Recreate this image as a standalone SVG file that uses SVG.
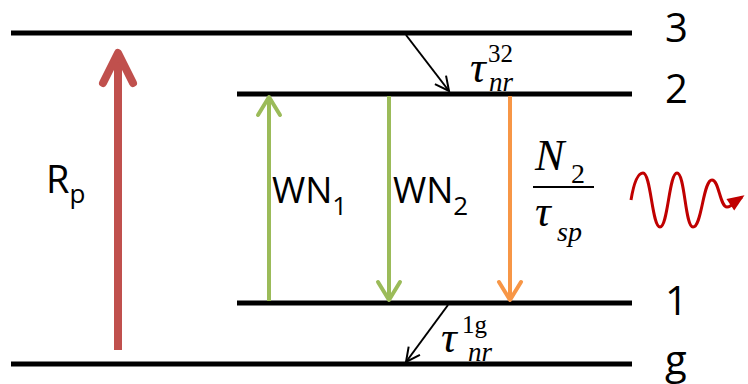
<svg xmlns="http://www.w3.org/2000/svg" width="748" height="384" viewBox="0 0 748 384">
  <style>
    .level { stroke: #000; stroke-width: 5; }
    .sans { font-family: "Open Sans", "Liberation Sans", sans-serif; fill: #000; }
    .serif { font-family: "Liberation Serif", "Times New Roman", serif; font-style: italic; fill: #000; }
    .roman { font-family: "Liberation Serif", "Times New Roman", serif; fill: #000; }
  </style>
  <defs>
    <marker id="headRed" markerUnits="userSpaceOnUse" orient="auto" overflow="visible" markerWidth="1" markerHeight="1">
      <path d="M-30,-15 L0,0 L-30,15" fill="none" stroke="#C0504D" stroke-width="8" stroke-linecap="round" stroke-linejoin="round"/>
    </marker>
    <marker id="headGreen" markerUnits="userSpaceOnUse" orient="auto" overflow="visible" markerWidth="1" markerHeight="1">
      <path d="M-18,-11 L0,0 L-18,11" fill="none" stroke="#9BBB59" stroke-width="4" stroke-linecap="round" stroke-linejoin="round"/>
    </marker>
    <marker id="headOrange" markerUnits="userSpaceOnUse" orient="auto" overflow="visible" markerWidth="1" markerHeight="1">
      <path d="M-18,-11 L0,0 L-18,11" fill="none" stroke="#F79646" stroke-width="4" stroke-linecap="round" stroke-linejoin="round"/>
    </marker>
    <marker id="headBlack" markerUnits="userSpaceOnUse" orient="auto" overflow="visible" markerWidth="1" markerHeight="1">
      <path d="M-14,-7 L0,0 L-14,7" fill="none" stroke="#000" stroke-width="2"/>
    </marker>
    <marker id="headWave" markerUnits="userSpaceOnUse" orient="auto" overflow="visible" markerWidth="1" markerHeight="1">
      <path d="M-14,-7 L3,0 L-14,7 Z" fill="#C00000"/>
    </marker>
  </defs>

  <!-- energy levels -->
  <g id="level-3">
    <line class="level" x1="11" y1="33" x2="632" y2="33"/>
    <text class="sans" x="665" y="42" font-size="40">3</text>
  </g>
  <g id="level-2">
    <line class="level" x1="237" y1="94" x2="632" y2="94"/>
    <text class="sans" x="665" y="103" font-size="40">2</text>
  </g>
  <g id="level-1">
    <line class="level" x1="237" y1="303" x2="632" y2="303"/>
    <text class="sans" x="665" y="315" font-size="40">1</text>
  </g>
  <g id="level-g">
    <line class="level" x1="11" y1="364" x2="632" y2="364"/>
    <text class="sans" x="665" y="374" font-size="40">g</text>
  </g>

  <!-- transitions -->
  <g id="connectors" fill="none">
    <line x1="118" y1="350" x2="118" y2="53" stroke="#C0504D" stroke-width="8" marker-end="url(#headRed)"/>
    <line x1="269" y1="301" x2="269" y2="97" stroke="#9BBB59" stroke-width="4" marker-end="url(#headGreen)"/>
    <line x1="389" y1="96" x2="389" y2="300" stroke="#9BBB59" stroke-width="4" marker-end="url(#headGreen)"/>
    <line x1="510" y1="96" x2="510" y2="300" stroke="#F79646" stroke-width="4" marker-end="url(#headOrange)"/>
    <line x1="406" y1="35" x2="449" y2="91" stroke="#000" stroke-width="2" marker-end="url(#headBlack)"/>
    <line x1="448" y1="305" x2="406" y2="362" stroke="#000" stroke-width="2" marker-end="url(#headBlack)"/>
    <path d="M631,200 C634,182 638,173 643,173 C651,173 652,227 660,227 C668,227 669,173 677,173 C685,173 685,227 693,227 C702,227 703,180 712,180 C719,180 720,207 727,207 C732,207 736,201 742,197" stroke="#C00000" stroke-width="3" marker-end="url(#headWave)"/>
  </g>

  <!-- labels -->
  <g id="label-Rp">
    <text class="sans" x="46" y="193" font-size="38">R<tspan font-size="26" dy="10">p</tspan></text>
  </g>
  <g id="label-WN1">
    <text class="sans" x="272" y="203" font-size="36">WN<tspan font-size="26" dy="12">1</tspan></text>
  </g>
  <g id="label-WN2">
    <text class="sans" x="393" y="203" font-size="36">WN<tspan font-size="26" dy="12">2</tspan></text>
  </g>
  <g id="label-tau32">
    <text class="serif" x="470" y="82" font-size="44">τ</text>
    <text class="roman" x="488" y="62" font-size="25">32</text>
    <text class="serif" x="489" y="91" font-size="27">nr</text>
  </g>
  <g id="label-tau1g">
    <text class="serif" x="441" y="352" font-size="44">τ</text>
    <text class="roman" x="462" y="333" font-size="25">1g</text>
    <text class="serif" x="468" y="361" font-size="27">nr</text>
  </g>
  <g id="label-rate">
    <text class="serif" x="535" y="170" font-size="44">N</text>
    <text class="roman" x="571" y="183" font-size="28">2</text>
    <line x1="533" y1="187" x2="594" y2="187" stroke="#000" stroke-width="2"/>
    <text class="serif" x="535" y="226" font-size="44">τ</text>
    <text class="serif" x="557" y="241" font-size="28">sp</text>
  </g>
</svg>
